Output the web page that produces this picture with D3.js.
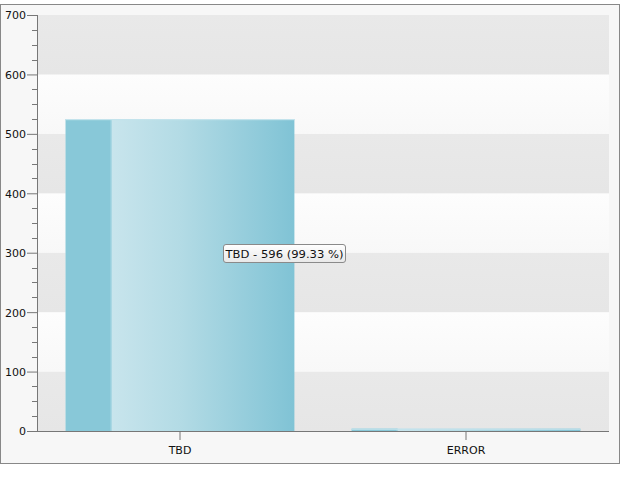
<!DOCTYPE html>
<html><head><meta charset="utf-8">
<script src="https://cdn.jsdelivr.net/npm/d3@7"></script>
<style>body{margin:0;background:#fff}svg{display:block}text{font-family:"DejaVu Sans",Verdana,sans-serif;font-size:11px;fill:#111}</style>
</head><body><svg id="c" width="636" height="489"></svg>
<script>
const categories = ["TBD", "ERROR"];
const values = [525, 4];
const tooltipLabels = ["TBD - 596 (99.33 %)"];
const yTicks = [0, 100, 200, 300, 400, 500, 600, 700];

const svg = d3.select("#c");
const m = {l: 37, r: 609, t: 15, b: 431};
// frame
svg.append("rect").attr("x",0.5).attr("y",4.5).attr("width",619).attr("height",459)
  .attr("fill","#f7f7f7").attr("stroke","#888");

const x = d3.scaleBand().domain(categories).range([m.l, m.r]).paddingInner(0.2).paddingOuter(0.1);
const y = d3.scaleLinear().domain([0, 700]).range([m.b, m.t]);

const defs = svg.append("defs");
const bg = defs.append("linearGradient").attr("id","bandG").attr("x1",0).attr("x2",0).attr("y1",0).attr("y2",1);
bg.append("stop").attr("offset",0).attr("stop-color","#e9e9e9");
bg.append("stop").attr("offset",1).attr("stop-color","#e6e6e6");
const lg = defs.append("linearGradient").attr("id","lightG").attr("x1",0).attr("x2",0).attr("y1",0).attr("y2",1);
lg.append("stop").attr("offset",0).attr("stop-color","#fdfdfd");
lg.append("stop").attr("offset",1).attr("stop-color","#f8f8f8");
const barG = defs.append("linearGradient").attr("id","barG").attr("x1",0).attr("x2",1).attr("y1",0).attr("y2",0);
barG.append("stop").attr("offset",0).attr("stop-color","#d6ebf1");
barG.append("stop").attr("offset",0.5).attr("stop-color","#b3dbe5");
barG.append("stop").attr("offset",1).attr("stop-color","#80c3d5");
const tipG = defs.append("linearGradient").attr("id","tipG").attr("x1",0).attr("x2",0).attr("y1",0).attr("y2",1);
tipG.append("stop").attr("offset",0).attr("stop-color","#ffffff");
tipG.append("stop").attr("offset",1).attr("stop-color","#e8e8e8");

// bands
const bands = d3.range(yTicks.length - 1);
svg.append("g").selectAll("rect").data(bands).join("rect")
  .attr("x", m.l).attr("width", m.r - m.l)
  .attr("y", i => y(yTicks[i+1])).attr("height", i => y(yTicks[i]) - y(yTicks[i+1]))
  .attr("fill", i => i % 2 === 0 ? "url(#bandG)" : "url(#lightG)");

// bars
const bars = svg.append("g").selectAll("g").data(categories).join("g");
bars.append("rect")
  .attr("x", d => x(d)).attr("width", x.bandwidth())
  .attr("y", (d,i) => y(values[i])).attr("height", (d,i) => y(0) - y(values[i]))
  .attr("fill", "url(#barG)");
bars.append("rect")
  .attr("x", d => x(d)).attr("width", x.bandwidth() * 0.2)
  .attr("y", (d,i) => y(values[i])).attr("height", (d,i) => y(0) - y(values[i]))
  .attr("fill", "#88c8d8");
bars.append("rect")
  .attr("x", d => x(d) + x.bandwidth()*0.2 - 1).attr("width", 1.5)
  .attr("y", (d,i) => y(values[i])).attr("height", (d,i) => y(0) - y(values[i]))
  .attr("fill", "#a6d6e2").attr("opacity", 0.8);
bars.append("rect")
  .attr("x", d => x(d)).attr("width", x.bandwidth())
  .attr("y", (d,i) => y(values[i])).attr("height", 1.2)
  .attr("fill", "#c3e3ec");

// y axis
const yAxis = d3.axisLeft(y).tickValues(yTicks).tickSize(10).tickPadding(1).tickFormat(d3.format("d"));
const ya = svg.append("g").attr("transform", `translate(${m.l},0)`).call(yAxis);
const minor = d3.range(0, 701, 25).filter(v => v % 100 !== 0);
ya.selectAll(".minor").data(minor).join("line").attr("class","minor")
  .attr("x1",-5).attr("x2",0).attr("y1",d=>Math.round(y(d))+0.5).attr("y2",d=>Math.round(y(d))+0.5).attr("stroke","#777");
ya.select(".domain").attr("stroke","#777").attr("d", `M0.5,${m.t}V${m.b}`);
ya.selectAll(".tick line").attr("stroke","#777");
ya.selectAll(".tick text").attr("dy","0.35em").style("font-size","11px").attr("fill","#111");

// x axis
const xAxis = d3.axisBottom(x).tickSize(9).tickPadding(6);
const xa = svg.append("g").attr("transform", `translate(0,${m.b})`).call(xAxis);
xa.select(".domain").attr("stroke","#777").attr("d", `M${m.l},0.5H${m.r}`);
xa.selectAll(".tick line").attr("stroke","#777");
xa.selectAll(".tick text").style("font-size","11px").attr("fill","#111");

// tooltip
const tip = svg.append("g").attr("transform", "translate(223.5,244.5)");
tip.append("rect").attr("width", 122).attr("height", 18).attr("rx", 2.5)
  .attr("fill","url(#tipG)").attr("stroke","#8a8a8a");
tip.append("text").attr("x", 61).attr("y", 9.5).attr("text-anchor","middle").attr("dy","0.35em")
  .attr("textLength", 118).attr("lengthAdjust","spacingAndGlyphs")
  .style("font-size","11px").text(tooltipLabels[0]);
</script></body></html>
